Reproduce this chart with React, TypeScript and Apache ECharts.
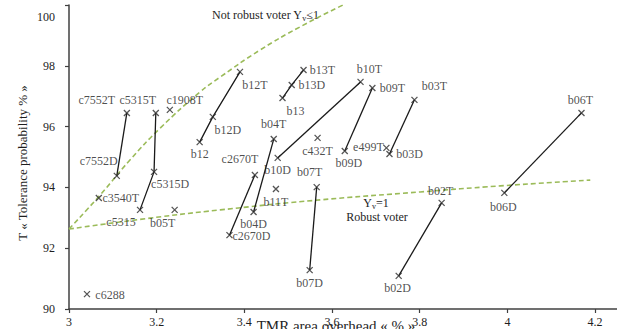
import React, { useEffect, useRef } from "react";
import * as echarts from "echarts";

// Points (name, x = TMR area overhead, y = tolerance probability %)
const pointNames = ["c7552T","c5315T","c1908T","c7552D","c5315D","c3540T","c5315","b05T","c6288","b12T","b12D","b12","b13T","b13D","b13","b10T","b10D","b09T","b09D","e499T","b03T","b03D","c432T","b04T","b04D","c2670T","c2670D","b11T","b07T","b07D","b02T","b02D","b06T","b06D"];
const pointX = [3.132,3.198,3.230,3.109,3.194,3.068,3.162,3.241,3.041,3.390,3.328,3.298,3.535,3.508,3.487,3.665,3.476,3.692,3.629,3.724,3.788,3.731,3.567,3.467,3.421,3.424,3.366,3.472,3.565,3.549,3.850,3.752,4.169,3.993];
const pointY = [96.45,96.45,96.55,94.38,94.51,93.65,93.26,93.26,90.49,97.80,96.32,95.49,97.86,97.37,96.94,97.47,94.97,97.27,95.20,95.30,96.88,95.10,95.63,95.59,93.19,94.41,92.43,93.95,94.01,91.28,93.49,91.09,96.45,93.82];

// Connected chains of points
const chains = [
  ["c7552T","c7552D"],
  ["c5315T","c5315D","c5315"],
  ["b12T","b12D","b12"],
  ["b13T","b13D","b13"],
  ["b10T","b10D"],
  ["b09T","b09D"],
  ["b03T","b03D"],
  ["b04T","b04D"],
  ["c2670T","c2670D"],
  ["b07T","b07D"],
  ["b02T","b02D"],
  ["b06T","b06D"],
];

// Boundary curves
const notRobustX = [3.0, 3.071, 3.139, 3.208, 3.299, 3.345, 3.436, 3.527, 3.625];
const notRobustY = [92.63, 93.75, 94.9, 95.95, 97.14, 97.63, 98.52, 99.28, 100];
const robustX = [3.0, 3.185, 3.345, 3.573, 3.801, 3.984, 4.189];
const robustY = [92.63, 92.99, 93.26, 93.59, 93.85, 94.05, 94.24];

const xTicks = [3, 3.2, 3.4, 3.6, 3.8, 4, 4.2];

// label offsets (styling)
const labelOffsets: Record<string, number[]> = {
  c7552T: [-30, -13], c5315T: [-18, -13], c1908T: [15, -10], c7552D: [-18, -15],
  c5315D: [16, 12], c3540T: [22, 0], c5315: [-19, 12], b05T: [-12, 13], c6288: [23, 1],
  b12T: [15, 13], b12D: [15, 13], b12: [0, 12], b13T: [19, 0], b13D: [20, 0], b13: [13, 13],
  b10T: [9, -13], b10D: [0, 12], b09T: [20, 0], b09D: [4, 12], e499T: [-18, -1],
  b03T: [20, -14], b03D: [20, 0], c432T: [0, 13], b04T: [0, -15], b04D: [0, 12],
  c2670T: [-15, -16], c2670D: [22, 1], b11T: [0, 13], b07T: [-7, -15], b07D: [0, 13],
  b02T: [-1, -12], b02D: [-1, 12], b06T: [-1, -13], b06D: [-1, 14],
};

const FONT = "Liberation Serif";
const TEXT = "#1e1e1e";
const GREEN = "#9bbb59";

export default function App() {
  const ref = useRef<HTMLDivElement>(null);
  useEffect(() => {
    if (!ref.current) return;
    const chart = echarts.init(ref.current, null, { renderer: "svg" });
    const idx = (n: string) => pointNames.indexOf(n);
    const chainSeries = chains.map((c) => ({
      type: "line",
      data: c.map((n) => [pointX[idx(n)], pointY[idx(n)]]),
      symbol: "none",
      lineStyle: { color: "#1a1a1a", width: 1.3 },
      z: 2,
      silent: true,
    }));
    const option: any = {
      animation: false,
      grid: { left: 69, right: 0, top: 5, bottom: 20, containLabel: false },
      xAxis: {
        type: "value",
        min: 3,
        max: 4.25,
        splitLine: { show: false },
        axisLine: { lineStyle: { color: "#404040", width: 1.5 } },
        axisTick: { customValues: xTicks, length: 4, lineStyle: { color: "#404040", width: 1.2 } },
        axisLabel: {
          customValues: xTicks,
          margin: 7,
          fontFamily: FONT,
          fontSize: 12,
          color: TEXT,
          formatter: (v: number) => String(Math.round(v * 10) / 10),
        },
      },
      yAxis: {
        type: "value",
        min: 90,
        max: 100,
        interval: 2,
        splitLine: { show: false },
        axisLine: { show: true, lineStyle: { color: "#404040", width: 1.5 } },
        axisTick: { show: true, length: 4, lineStyle: { color: "#404040", width: 1.2 } },
        axisLabel: {
          margin: 14,
          fontFamily: FONT,
          fontSize: 12,
          color: TEXT,
          formatter: (v: number) => (v === 100 ? "{t|100}" : String(v)),
          rich: { t: { fontFamily: FONT, fontSize: 12, color: TEXT, padding: [24, 0, 0, 0] } },
        },
      },
      series: [
        {
          type: "line",
          data: notRobustX.map((x, i) => [x, notRobustY[i]]),
          smooth: true,
          symbol: "none",
          lineStyle: { color: GREEN, width: 1.6, type: [5, 3] },
          z: 1,
          silent: true,
        },
        {
          type: "line",
          data: robustX.map((x, i) => [x, robustY[i]]),
          smooth: true,
          symbol: "none",
          lineStyle: { color: GREEN, width: 1.6, type: [5, 3] },
          z: 1,
          silent: true,
        },
        ...chainSeries,
        {
          type: "scatter",
          z: 3,
          symbol: "path://M0,0L10,10M10,0L0,10",
          symbolSize: 6,
          itemStyle: { color: "none", borderColor: "#2a2a2a", borderWidth: 1.3 },
          label: {
            show: true,
            position: "inside",
            align: "center",
            verticalAlign: "middle",
            fontFamily: FONT,
            fontSize: 12,
            color: TEXT,
            formatter: (p: any) => p.name,
          },
          data: pointNames.map((n, i) => ({
            name: n,
            value: [pointX[i], pointY[i]],
            label: { offset: labelOffsets[n] },
          })),
        },
      ],
      graphic: [
        {
          type: "text",
          x: 212,
          y: 15,
          style: {
            text: "Not robust voter Y{s|v}≤1",
            fontFamily: FONT,
            fontSize: 12,
            fill: TEXT,
            textVerticalAlign: "middle",
            rich: { s: { fontFamily: FONT, fontSize: 8, fill: TEXT, verticalAlign: "bottom", padding: [6, 0, 0, 0] } },
          },
        },
        {
          type: "text",
          x: 376,
          y: 203,
          style: {
            text: "Y{s|v}=1",
            fontFamily: FONT,
            fontSize: 12,
            fill: TEXT,
            textAlign: "center",
            textVerticalAlign: "middle",
            rich: { s: { fontFamily: FONT, fontSize: 8, fill: TEXT, padding: [6, 0, 0, 0] } },
          },
        },
        {
          type: "text",
          x: 377,
          y: 217,
          style: {
            text: "Robust voter",
            fontFamily: FONT,
            fontSize: 12,
            fill: TEXT,
            textAlign: "center",
            textVerticalAlign: "middle",
          },
        },
        {
          type: "text",
          x: 22,
          y: 163,
          rotation: Math.PI / 2,
          style: {
            text: "T « Tolerance probability % »",
            fontFamily: FONT,
            fontSize: 13,
            fill: TEXT,
            textAlign: "center",
            textVerticalAlign: "middle",
          },
        },
        {
          type: "text",
          x: 336,
          y: 318,
          style: {
            text: "TMR area overhead « % »",
            fontFamily: FONT,
            fontSize: 15,
            fill: TEXT,
            textAlign: "center",
            textVerticalAlign: "top",
          },
        },
      ],
    };
    chart.setOption(option);
    return () => chart.dispose();
  }, []);
  return (
    <div
      ref={ref}
      style={{ position: "absolute", left: 0, top: 0, width: 617, height: 329, background: "#fff" }}
    />
  );
}
